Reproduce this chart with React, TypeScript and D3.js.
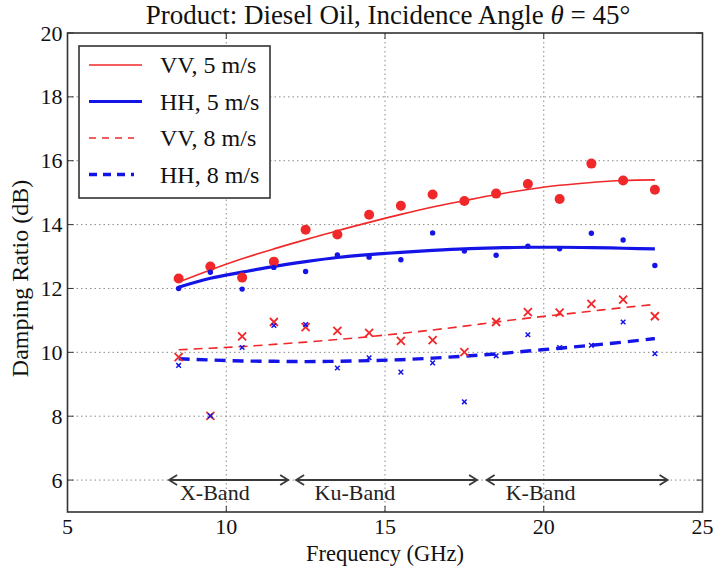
import React from "react";
import * as d3 from "d3";

const freqs = [8.5, 9.5, 10.5, 11.5, 12.5, 13.5, 14.5, 15.5, 16.5, 17.5, 18.5, 19.5, 20.5, 21.5, 22.5, 23.5];

const vv5 = [12.31, 12.69, 12.34, 12.84, 13.84, 13.69, 14.31, 14.59, 14.94, 14.74, 14.97, 15.27, 14.8, 15.91, 15.38, 15.09];
const hh5 = [12.0, 12.51, 11.98, 12.66, 12.53, 13.05, 12.98, 12.9, 13.74, 13.17, 13.04, 13.32, 13.24, 13.73, 13.52, 12.72];
const vv8 = [9.85, 8.01, 10.5, 10.95, 10.79, 10.67, 10.61, 10.36, 10.38, 10.01, 10.95, 11.26, 11.24, 11.52, 11.65, 11.13];
const hh8 = [9.59, 8.01, 10.15, 10.84, 10.87, 9.51, 9.83, 9.38, 9.67, 8.45, 9.89, 10.55, 10.15, 10.22, 10.95, 9.96];

const vv5Fit = [12.2, 12.58, 12.93, 13.24, 13.53, 13.81, 14.07, 14.32, 14.55, 14.75, 14.94, 15.1, 15.23, 15.32, 15.38, 15.4];
const hh5Fit = [12.04, 12.32, 12.51, 12.69, 12.84, 12.97, 13.06, 13.13, 13.19, 13.24, 13.27, 13.29, 13.29, 13.28, 13.26, 13.24];
const vv8Fit = [10.08, 10.13, 10.18, 10.25, 10.32, 10.4, 10.49, 10.59, 10.7, 10.82, 10.95, 11.07, 11.18, 11.29, 11.4, 11.5];
const hh8Fit = [9.8, 9.76, 9.73, 9.72, 9.71, 9.72, 9.74, 9.77, 9.82, 9.88, 9.95, 10.04, 10.13, 10.22, 10.32, 10.43];

const xTicks = [5, 10, 15, 20, 25];
const yTicks = [6, 8, 10, 12, 14, 16, 18, 20];

const bandNames = ["X-Band", "Ku-Band", "K-Band"];
const bandStart = [8.2, 12.2, 18.2];
const bandEnd = [11.95, 17.9, 23.9];
const bandLabelX = [9.64, 14.05, 19.9];
const bandLevel = 6;

const legendLabels = ["VV, 5 m/s", "HH, 5 m/s", "VV, 8 m/s", "HH, 8 m/s"];

const RED = "#f0282a";
const BLUE = "#1414e6";
const FONT = "'Liberation Serif', 'Times New Roman', serif";

export default function App() {
  const W = 713;
  const H = 569;
  const left = 67.5, right = 702.5, top = 33, bottom = 512;
  const x = d3.scaleLinear().domain([5, 25]).range([left, right]);
  const y = d3.scaleLinear().domain([5, 20]).range([bottom, top]);

  const line = (vals: number[]) =>
    d3.line<number>().x((_, i) => x(freqs[i])).y((v) => y(v)).curve(d3.curveMonotoneX)(vals) || "";

  const lineStyles = [
    { color: RED, width: 1.6, dash: undefined as string | undefined },
    { color: BLUE, width: 3.2, dash: undefined as string | undefined },
    { color: RED, width: 1.6, dash: "9,6" },
    { color: BLUE, width: 3.4, dash: "11,7" },
  ];
  const fits = [vv5Fit, hh5Fit, vv8Fit, hh8Fit];

  const cross = (cx: number, cy: number, s: number) =>
    `M${cx - s},${cy - s}L${cx + s},${cy + s}M${cx - s},${cy + s}L${cx + s},${cy - s}`;

  const arrowHead = (px: number, py: number, dir: number) =>
    `M${px + dir * 8},${py - 5}L${px},${py}L${px + dir * 8},${py + 5}`;

  return (
    <svg width={W} height={H} style={{ position: "absolute", left: 0, top: 0, background: "#fff" }} fontFamily={FONT}>
      <rect x={0} y={0} width={W} height={H} fill="#fff" />
      {/* grid */}
      {xTicks.slice(1, -1).map((t) => (
        <line key={"gx" + t} x1={x(t)} x2={x(t)} y1={top} y2={bottom} stroke="#8a8a8a" strokeWidth={1} strokeDasharray="1.5,3" />
      ))}
      {yTicks.slice(0, -1).map((t) => (
        <line key={"gy" + t} x1={left} x2={right} y1={y(t)} y2={y(t)} stroke="#8a8a8a" strokeWidth={1} strokeDasharray="1.5,3" />
      ))}

      {/* band annotations */}
      {bandNames.map((n, i) => (
        <g key={n}>
          <line x1={x(bandStart[i])} x2={x(bandEnd[i])} y1={y(bandLevel)} y2={y(bandLevel)} stroke="#3a3a3a" strokeWidth={2} />
          <path d={arrowHead(x(bandStart[i]), y(bandLevel), 1)} fill="none" stroke="#3a3a3a" strokeWidth={1.8} />
          <path d={arrowHead(x(bandEnd[i]), y(bandLevel), -1)} fill="none" stroke="#3a3a3a" strokeWidth={1.8} />
          <text x={x(bandLabelX[i])} y={y(bandLevel) + 20} textAnchor="middle" fontSize={22} fill="#222">{n}</text>
        </g>
      ))}

      {/* fit lines */}
      {fits.map((f, i) => (
        <path key={"fit" + i} d={line(f)} fill="none" stroke={lineStyles[i].color} strokeWidth={lineStyles[i].width} strokeDasharray={lineStyles[i].dash} />
      ))}

      {/* markers */}
      {vv5.map((v, i) => (
        <circle key={"a" + i} cx={x(freqs[i])} cy={y(v)} r={5} fill={RED} />
      ))}
      {hh5.map((v, i) => (
        <circle key={"b" + i} cx={x(freqs[i])} cy={y(v)} r={2.7} fill={BLUE} />
      ))}
      {vv8.map((v, i) => (
        <path key={"c" + i} d={cross(x(freqs[i]), y(v), 4)} stroke={RED} strokeWidth={1.8} fill="none" />
      ))}
      {hh8.map((v, i) => (
        <path key={"d" + i} d={cross(x(freqs[i]), y(v), 2.3)} stroke={BLUE} strokeWidth={1.5} fill="none" />
      ))}

      {/* frame */}
      <rect x={left} y={top} width={right - left} height={bottom - top} fill="none" stroke="#333" strokeWidth={1.6} />
      {/* ticks */}
      {xTicks.map((t) => (
        <g key={"tx" + t}>
          <line x1={x(t)} x2={x(t)} y1={bottom} y2={bottom - 6} stroke="#333" strokeWidth={1} />
          <line x1={x(t)} x2={x(t)} y1={top} y2={top + 6} stroke="#333" strokeWidth={1} />
          <text x={x(t)} y={bottom + 22} textAnchor="middle" fontSize={22} fill="#111">{t}</text>
        </g>
      ))}
      {yTicks.map((t) => (
        <g key={"ty" + t}>
          <line x1={left} x2={left + 6} y1={y(t)} y2={y(t)} stroke="#333" strokeWidth={1} />
          <line x1={right} x2={right - 6} y1={y(t)} y2={y(t)} stroke="#333" strokeWidth={1} />
          <text x={left - 5} y={y(t) + 7.5} textAnchor="end" fontSize={22} fill="#111">{t}</text>
        </g>
      ))}

      {/* axis labels */}
      <text x={(left + right) / 2} y={561} textAnchor="middle" fontSize={22.5} fill="#111">Frequency (GHz)</text>
      <text transform={`translate(28,${(top + bottom) / 2 + 6}) rotate(-90)`} textAnchor="middle" fontSize={24} fill="#111">Damping Ratio (dB)</text>

      {/* title */}
      <text x={388} y={24} textAnchor="middle" fontSize={27} fill="#111">
        Product: Diesel Oil, Incidence Angle <tspan fontStyle="italic">θ</tspan> = 45°
      </text>

      {/* legend */}
      <rect x={79} y={46} width={191} height={152} fill="#fff" stroke="#333" strokeWidth={1.6} />
      {legendLabels.map((l, i) => {
        const ly = 65 + i * 36.5;
        const st = lineStyles[i];
        return (
          <g key={l}>
            <line x1={89} x2={i >= 2 ? 134 : 142} y1={ly} y2={ly} stroke={st.color} strokeWidth={st.width} strokeDasharray={st.dash ? (i === 2 ? "7,6" : "8,6") : undefined} />
            <text x={160} y={ly + 8} fontSize={24} fill="#111">{l}</text>
          </g>
        );
      })}
    </svg>
  );
}
